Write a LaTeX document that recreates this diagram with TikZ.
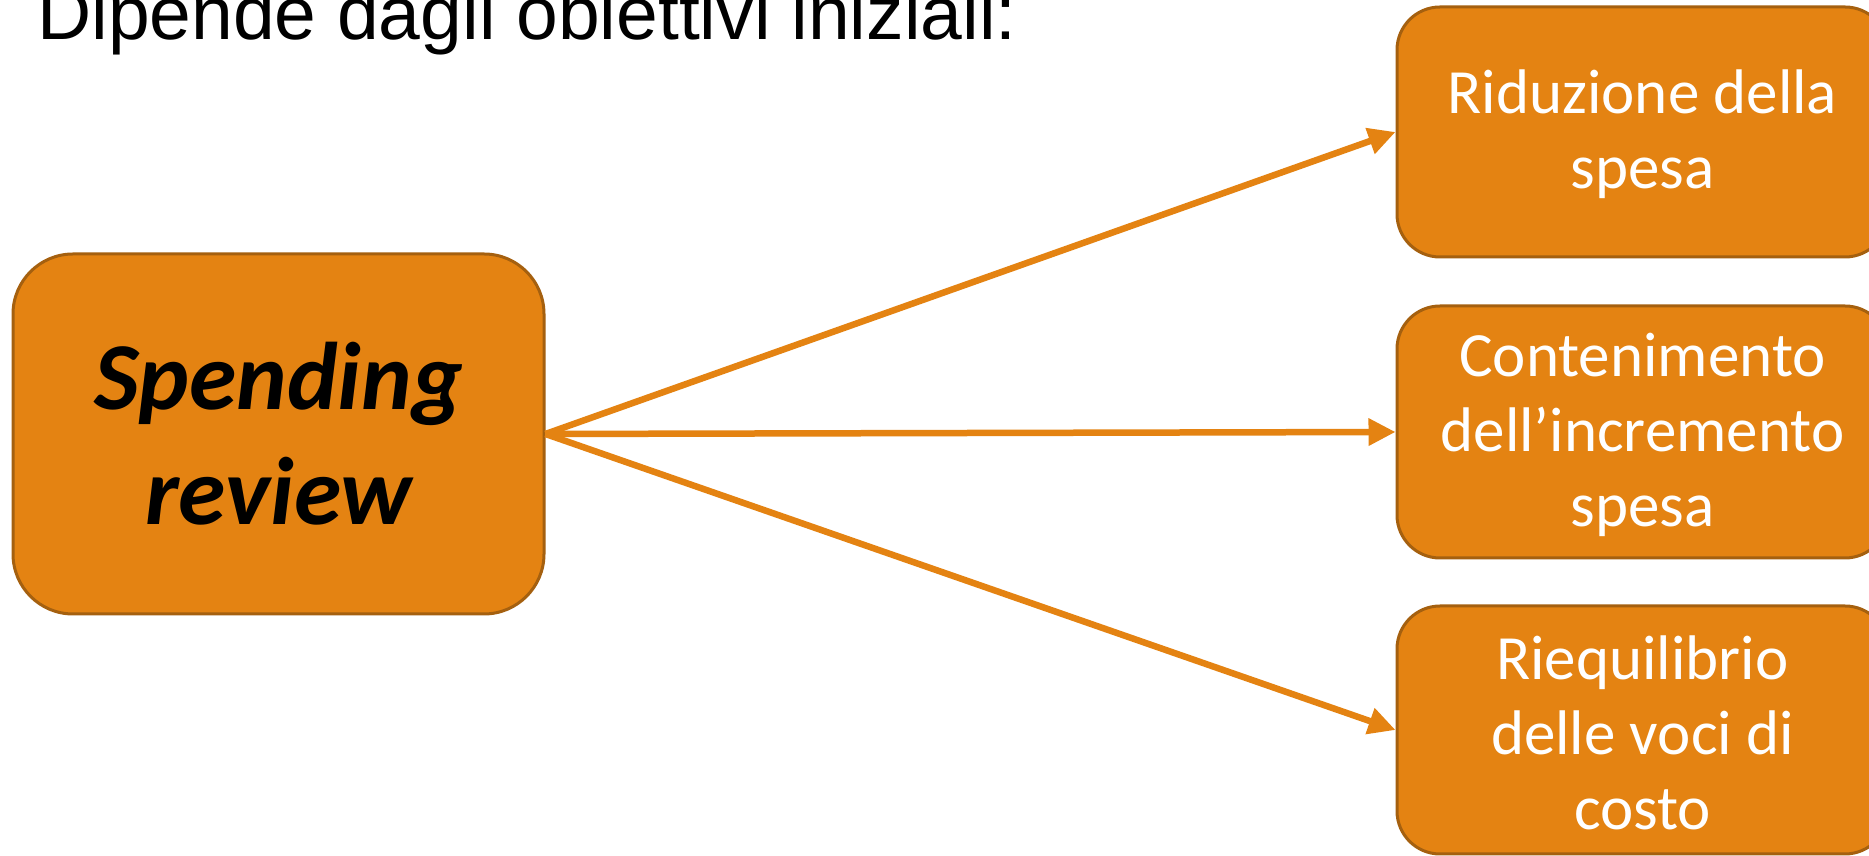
\documentclass[tikz,border=0pt]{standalone}
\usepackage{fontspec}
\setmainfont{Liberation Sans}
\newfontfamily\carlito{Carlito}
\usetikzlibrary{arrows.meta}
\definecolor{boxfill}{HTML}{E48312}
\definecolor{boxline}{HTML}{A5600F}
\definecolor{arrcol}{HTML}{E48312}
\newcommand{\topstrut}{\rule{0pt}{0.78em}}
\tikzset{
  mainbox/.style={draw=boxline, line width=3pt, fill=boxfill, rounded corners=60pt,
    minimum width=531pt, minimum height=360pt, inner sep=0pt, align=center,
    font=\carlito\bfseries\itshape\fontsize{96}{115}\selectfont, text=black},
  goalbox/.style={draw=boxline, line width=3pt, fill=boxfill, rounded corners=43pt,
    minimum width=491pt, minimum height=250pt, inner sep=0pt, align=center,
    font=\carlito\fontsize{63}{75}\selectfont, text=white},
  arr/.style={draw=arrcol, line width=6.5pt, -{Triangle[length=27pt,width=26pt]}},
  title/.style={anchor=base west, inner sep=0pt, font=\fontsize{75}{82}\selectfont}
}
\begin{document}
\begin{tikzpicture}[x=1pt,y=1pt]
\useasboundingbox (0,0) rectangle (1869,856);
\clip (0,0) rectangle (1869,856);
\fill[white] (0,0) rectangle (1869,856);
\node[title] (t) at (37,816) {Dipende dagli obiettivi iniziali:};
\node[mainbox] (sr) at (278.5,422) {Spending\\review};
\node[goalbox] (g1) at (1642.5,724) {\topstrut Riduzione della\\spesa};
\node[goalbox, minimum height=252pt] (g2) at (1642.5,424) {\topstrut Contenimento\\dell’incremento\\spesa};
\node[goalbox, minimum height=248pt] (g3) at (1642.5,126) {\topstrut Riequilibrio\\delle voci di\\costo};
\draw[arr] (sr.east) -- (g1.west);
\draw[arr] (sr.east) -- (g2.west);
\draw[arr] (sr.east) -- (g3.west);
\end{tikzpicture}
\end{document}
